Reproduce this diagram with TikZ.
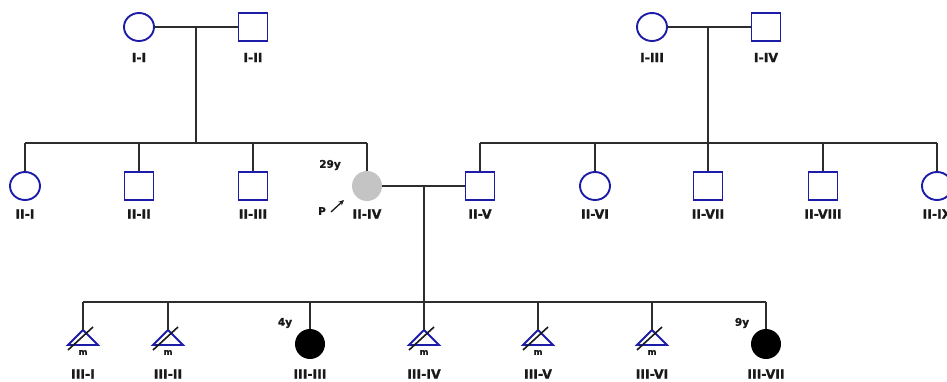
\documentclass[tikz,border=0pt]{standalone}
\usepackage{fontspec}
\setmainfont{DejaVu Sans}
\newfontfamily\labfont{DejaVu Sans Bold}[FakeBold=1.2]
\usetikzlibrary{shapes.geometric,arrows.meta,calc}
\definecolor{symblue}{RGB}{28,28,168}
\definecolor{lncol}{RGB}{45,45,45}
\definecolor{affgrey}{RGB}{196,196,196}
\definecolor{txt}{RGB}{25,25,25}
\begin{document}
\begin{tikzpicture}[x=1pt,y=-1pt,
 ln/.style={draw=lncol,line width=1.3pt},
 female/.style={ellipse,draw=symblue,line width=1.9pt,minimum width=30pt,minimum height=28pt,inner sep=0pt,fill=white},
 male/.style={rectangle,draw=symblue,line width=1.9pt,minimum width=29pt,minimum height=28pt,inner sep=0pt,fill=white},
 carrier/.style={circle,fill=affgrey,minimum size=30pt,inner sep=0pt},
 affected/.style={circle,fill=black,minimum size=30pt,inner sep=0pt},
 lab/.style={font=\labfont\fontsize{12.5}{12.5}\selectfont,text=txt,inner sep=0pt},
 small/.style={font=\labfont\fontsize{10.5}{10.5}\selectfont,text=txt,inner sep=0pt},
 mlab/.style={font=\labfont\fontsize{8.5}{8.5}\selectfont,text=txt,inner sep=0pt},
 tri/.style={draw=symblue,line width=1.9pt,line join=miter},
 slash/.style={draw=txt,line width=1.6pt}
]
\useasboundingbox (0,0) rectangle (947,381);

% Generation I
\node[female] (I1) at (139,27) {};
\node[male]   (I2) at (253,27) {};
\node[female] (I3) at (652,27) {};
\node[male]   (I4) at (766,27) {};
\node[lab] (lI1) at (139,57.5) {I-I};
\node[lab] (lI2) at (253,57.5) {I-II};
\node[lab] (lI3) at (652,57.5) {I-III};
\node[lab] (lI4) at (766,57.5) {I-IV};

% Generation II
\node[female]  (II1) at (25,186) {};
\node[male]    (II2) at (139,186) {};
\node[male]    (II3) at (253,186) {};
\node[carrier] (II4) at (367,186) {};
\node[male]    (II5) at (480,186) {};
\node[female]  (II6) at (595,186) {};
\node[male]    (II7) at (708,186) {};
\node[male]    (II8) at (823,186) {};
\node[female]  (II9) at (937,186) {};
\node[lab] (lII1) at (25,214) {II-I};
\node[lab] (lII2) at (139,214) {II-II};
\node[lab] (lII3) at (253,214) {II-III};
\node[lab] (lII4) at (367,214) {II-IV};
\node[lab] (lII5) at (480,214) {II-V};
\node[lab] (lII6) at (595,214) {II-VI};
\node[lab] (lII7) at (708,214) {II-VII};
\node[lab] (lII8) at (823,214) {II-VIII};
\node[lab] (lII9) at (937,214) {II-IX};
\node[small] (age4) at (330,165) {29y};
\node[small] (prob) at (322,211) {P};
\coordinate (pa) at (331,212);
\draw[-{Stealth[length=5.5pt,width=5pt]},line width=1.3pt,txt] (pa) -- ++(13,-12);

% Generation III
\coordinate (III1) at (83,330);
\coordinate (III2) at (168,330);
\node[affected] (III3) at (310,344) {};
\coordinate (III4) at (424,330);
\coordinate (III5) at (538,330);
\coordinate (III6) at (652,330);
\node[affected] (III7) at (766,344) {};
\foreach \t in {III1,III2,III4,III5,III6}{
  \draw[tri] (\t) -- ++(-15,15) -- ++(30,0) -- cycle;
  \draw[slash] (\t) ++(-15,20) -- ++(25,-23);
  \node[mlab] at ($(\t)+(0,22.5)$) {m};
}
\node[lab] (lIII1) at (83,374) {III-I};
\node[lab] (lIII2) at (168,374) {III-II};
\node[lab] (lIII3) at (310,374) {III-III};
\node[lab] (lIII4) at (424,374) {III-IV};
\node[lab] (lIII5) at (538,374) {III-V};
\node[lab] (lIII6) at (652,374) {III-VI};
\node[lab] (lIII7) at (766,374) {III-VII};
\node[small] (age3) at (285,323) {4y};
\node[small] (age7) at (742,323) {9y};

% Connectors: left family
\coordinate (m1) at (196,27);
\coordinate (s1) at (196,143);
\draw[ln] (I1) -- (I2);
\draw[ln] (m1) -- (s1);
\draw[ln] (II1.north |- s1) -- (II4.north |- s1);
\foreach \c in {II1,II2,II3,II4}{\draw[ln] (\c.north |- s1) -- (\c.north);}

% right family
\coordinate (m2) at (708,27);
\coordinate (s2) at (708,143);
\draw[ln] (I3) -- (I4);
\draw[ln] (m2) -- (s2);
\draw[ln] (II5.north |- s2) -- (II9.north |- s2);
\foreach \c in {II5,II6,II7,II8,II9}{\draw[ln] (\c.north |- s2) -- (\c.north);}

% couple II-IV x II-V
\coordinate (m3) at (424,186);
\coordinate (s3) at (424,302);
\draw[ln] (II4) -- (II5);
\draw[ln] (m3) -- (s3);
\draw[ln] (III1 |- s3) -- (III7.north |- s3);
\foreach \c in {III1,III2,III4,III5,III6}{\draw[ln] (\c |- s3) -- (\c);}
\foreach \c in {III3,III7}{\draw[ln] (\c.north |- s3) -- (\c.north);}
\end{tikzpicture}
\end{document}
